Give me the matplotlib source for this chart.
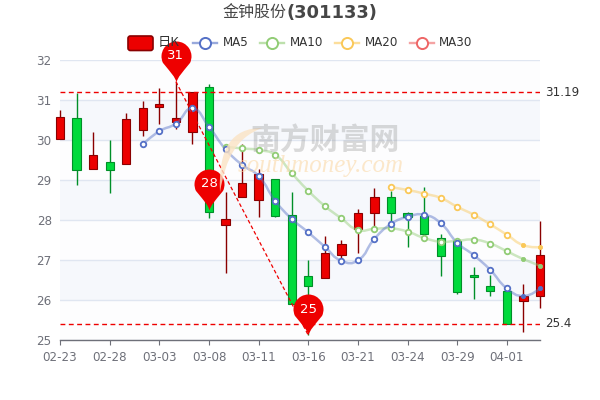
import numpy as np
import matplotlib
matplotlib.use("Agg")
import matplotlib.pyplot as plt
from matplotlib.path import Path
from matplotlib.patches import PathPatch, FancyBboxPatch
from matplotlib.lines import Line2D

tick_labels = ["02-23", "02-28", "03-03", "03-08", "03-11", "03-16", "03-21", "03-24", "03-29", "04-01"]
opens = [30.02, 30.54, 29.27, 29.46, 29.39, 30.25, 30.82, 30.46, 30.20, 31.33, 27.87, 28.58, 28.50, 29.03, 28.12,
         26.60, 26.54, 27.13, 27.78, 28.17, 28.58, 28.17, 28.10, 27.54, 27.48, 26.63, 26.35, 26.23, 25.97, 26.11]
closes = [30.57, 29.24, 29.62, 29.25, 30.52, 30.80, 30.89, 30.54, 31.19, 28.21, 28.03, 28.93, 29.14, 28.09, 25.91,
          26.35, 27.17, 27.39, 28.17, 28.58, 28.17, 28.08, 27.65, 27.09, 26.19, 26.57, 26.23, 25.40, 26.11, 27.12]
lows = [30.02, 28.87, 29.27, 28.68, 29.39, 30.10, 30.40, 30.27, 29.89, 28.04, 26.67, 28.58, 28.08, 28.07, 25.91,
        25.12, 26.54, 27.00, 27.17, 27.80, 27.83, 27.32, 27.63, 26.60, 26.14, 26.02, 26.11, 25.40, 25.20, 25.79]
highs = [30.75, 31.17, 30.19, 30.00, 30.67, 30.97, 31.29, 31.46, 31.19, 31.39, 28.69, 29.89, 29.27, 29.03, 28.69,
         27.00, 27.60, 27.50, 28.27, 28.79, 28.73, 28.20, 28.82, 27.65, 27.52, 26.83, 26.63, 26.25, 26.40, 27.98]
ma5 = [None] * 5 + [29.89, 30.22, 30.41, 30.79, 30.33, 29.77, 29.38, 29.10, 28.48, 28.03, 27.69, 27.33, 26.98, 26.99,
                    27.53, 27.90, 28.08, 28.13, 27.92, 27.43, 27.12, 26.75, 26.29, 26.10, 26.29]
ma10 = [None] * 10 + [29.83, 29.79, 29.75, 29.63, 29.17, 28.73, 28.35, 28.04, 27.75, 27.78, 27.79, 27.71, 27.55,
                      27.46, 27.48, 27.51, 27.41, 27.22, 27.02, 26.86]
ma20 = [None] * 20 + [28.82, 28.75, 28.66, 28.55, 28.33, 28.13, 27.89, 27.63, 27.37, 27.32]
pin_idx = [7, 9, 15]
pin_vals = [31.46, 28.25, 25.12]
pin_labels = ["31", "28", "25"]
max_close = 31.19
min_close = 25.4

CJK = ["Noto Sans CJK SC", "DejaVu Sans"]
C_UP, C_UPB, C_DN, C_DNB = "#ec0000", "#8a0000", "#00da3c", "#008f28"
C5, C10, C20, C30 = "#5470c6", "#91cc75", "#fac858", "#ee6666"
RED = "#ee0000"

fig = plt.figure(figsize=(6, 4), dpi=100, facecolor="white")
ax = fig.add_axes([60 / 600, 60 / 400, 480 / 600, 280 / 400])
ax.set_xlim(0, 29)
ax.set_ylim(25, 32)
ax.set_facecolor("white")

# bands and grid
for v in range(25, 32):
    c = "#f6f8fc" if v in (26, 28, 30) else "#fdfdfe"
    ax.axhspan(v, v + 1, color=c, lw=0, zorder=0)
ax.set_yticks(range(25, 33))
ax.grid(axis="y", color="#e0e6f1", lw=1, zorder=0.5)
ax.set_axisbelow(True)
for s in ("top", "right", "left"):
    ax.spines[s].set_visible(False)
ax.spines["bottom"].set_color("#6e7079")
ax.spines["bottom"].set_linewidth(1)
ax.set_xticks(range(0, 30, 3))
ax.set_xticklabels(tick_labels)
ax.tick_params(axis="x", length=3.6, width=0.8, color="#6e7079", labelcolor="#6e7079", labelsize=8.6, pad=4.5)
ax.tick_params(axis="y", length=0, labelcolor="#6e7079", labelsize=8.6, pad=6)

# watermark
def fx(x):
    return x / 600
def fy(y):
    return 1 - y / 400
fig.text(fx(325), fy(141), "南方财富网", family=CJK, fontsize=21.5, fontweight="bold", color="#9a9a9a", alpha=0.36,
         ha="center", va="center", zorder=1)
swoosh = Path([(fx(262), fy(128)), (fx(232), fy(128)), (fx(218), fy(148)), (fx(220), fy(192)),
               (fx(226), fy(158)), (fx(236), fy(138)), (fx(262), fy(128))],
              [Path.MOVETO, Path.CURVE4, Path.CURVE4, Path.CURVE4, Path.CURVE4, Path.CURVE4, Path.CURVE4])
fig.add_artist(PathPatch(swoosh, transform=fig.transFigure, fc="#fbe3c4", ec="none", alpha=0.8, zorder=1))
fig.text(fx(321), fy(166), "southmoney.com", family="Liberation Serif", style="italic", fontsize=18, color="#fbd9a8",
         alpha=0.6, ha="center", va="center", zorder=1)

# candles
x = np.arange(len(opens))
for i in x:
    o, c, l, h = opens[i], closes[i], lows[i], highs[i]
    up = c >= o
    fill, edge = (C_UP, C_UPB) if up else (C_DN, C_DNB)
    ax.vlines(i, l, h, color=edge, lw=1, zorder=3, clip_on=False)
    ax.bar(i, abs(c - o), bottom=min(o, c), width=0.5, color=fill, edgecolor=edge, linewidth=0.8, zorder=3.1,
           clip_on=False)

# smooth MA lines
def smooth_path(xs, ys, s=0.5):
    p = np.column_stack([np.asarray(xs, float) * 16.55, np.asarray(ys, float) * 40])
    verts, codes = [p[0]], [Path.MOVETO]
    n = len(p)
    for i in range(n - 1):
        if i == 0:
            c1 = p[0]
        else:
            v = p[i + 1] - p[i - 1]
            d0, d1 = np.linalg.norm(p[i] - p[i - 1]), np.linalg.norm(p[i + 1] - p[i])
            c1 = p[i] + v * s * d1 / (d0 + d1)
        if i + 1 == n - 1:
            c2 = p[i + 1]
        else:
            v = p[i + 2] - p[i]
            d0, d1 = np.linalg.norm(p[i + 1] - p[i]), np.linalg.norm(p[i + 2] - p[i + 1])
            c2 = p[i + 1] - v * s * d0 / (d0 + d1)
        verts += [c1, c2, p[i + 1]]
        codes += [Path.CURVE4] * 3
    verts = np.array(verts) / [16.55, 40]
    return Path(verts, codes)

for vals, col in ((ma20, C20), (ma10, C10), (ma5, C5)):
    xs = [i for i, v in enumerate(vals) if v is not None]
    ys = [v for v in vals if v is not None]
    ax.add_patch(PathPatch(smooth_path(xs, ys), fc="none", ec=col, lw=1.8, alpha=0.45, zorder=4, clip_on=False,
                           capstyle="round"))
    ax.plot(xs[:-2], ys[:-2], ls="none", marker="o", ms=4, mfc="white", mec=col, mew=1.3, zorder=4.5, clip_on=False)
    ax.plot(xs[-2:], ys[-2:], ls="none", marker="o", ms=3, mfc=col, mec=col, mew=0.6, zorder=4.5, clip_on=False)

# reference lines
ax.plot([0, 29], [max_close, max_close], color="#ee0000", lw=1, dashes=(3.5, 2.5), zorder=5)
ax.plot([0, 29], [min_close, min_close], color="#ee0000", lw=1, dashes=(3.5, 2.5), zorder=5)
ax.plot([pin_idx[0], pin_idx[2]], [pin_vals[0], pin_vals[2]], color="#ee0000", lw=0.9, dashes=(3, 2), zorder=5,
        clip_on=False)
ax.annotate(f"{max_close:g}", (29, max_close), xytext=(5, 0), textcoords="offset pixels", color="#333333", fontsize=8.6,
            va="center", ha="left", annotation_clip=False)
ax.annotate(f"{min_close:g}", (29, min_close), xytext=(5, 0), textcoords="offset pixels", color="#333333", fontsize=8.6,
            va="center", ha="left", annotation_clip=False)

# pins
r, cy = 15.0, 26.0
arc = Path.arc(-25, 205)
av = arc.vertices * r + [0, cy]
start = av[0]
pin_verts = [(0, 0), (1.6, 6), (5, 9), tuple(start)] + [tuple(v) for v in av[1:]] + [(-5, 9), (-1.6, 6), (0, 0), (0, 0)]
pin_codes = [Path.MOVETO, Path.CURVE4, Path.CURVE4, Path.CURVE4] + list(arc.codes[1:]) + \
            [Path.CURVE4, Path.CURVE4, Path.CURVE4, Path.CLOSEPOLY]
pin = Path(pin_verts, pin_codes)
ms_pts = 2 * (cy + r) * 72 / 100
for i, v, lab in zip(pin_idx, pin_vals, pin_labels):
    ax.plot([i], [v], marker=pin, ms=ms_pts, mfc=RED, mec="none", ls="none", zorder=6, clip_on=False)
    ax.annotate(lab, (i, v), xytext=(0, cy), textcoords="offset pixels", color="white", fontsize=9.5, ha="center",
                va="center", zorder=7, annotation_clip=False)

# title
fig.text(fx(222), fy(13), "金钟股份", family=CJK, fontsize=11.5, color="#464646", ha="left", va="center")
fig.text(fx(286), fy(13), "(301133)", family="DejaVu Sans", fontweight="bold", fontsize=12.9, color="#464646", ha="left",
         va="center")

# legend
fig.add_artist(FancyBboxPatch((fx(128), fy(50.5)), fx(25), 14.5 / 400, boxstyle="round,pad=0,rounding_size=0.004",
                              transform=fig.transFigure, fc=C_UP, ec=C_UPB, lw=1.2, mutation_aspect=1.5, zorder=2))
fig.text(fx(158), fy(42.5), "日K", family=CJK, fontsize=9.5, color="#333333", ha="left", va="center", zorder=2)
for cx, tx, col, lab in ((205, 223, C5, "MA5"), (272, 290, C10, "MA10"), (347, 365, C20, "MA20"), (422, 439, C30, "MA30")):
    fig.add_artist(Line2D([fx(cx - 12), fx(cx + 12)], [fy(43), fy(43)], transform=fig.transFigure, color=col, lw=1.7,
                          alpha=0.6, zorder=2))
    fig.add_artist(Line2D([fx(cx)], [fy(43)], transform=fig.transFigure, marker="o", ms=8, mfc="white", mec=col, mew=1.4,
                          ls="none", zorder=2))
    fig.text(fx(tx), fy(43), lab, fontsize=8.6, color="#333333", ha="left", va="center", zorder=2)

fig.savefig("out.png", dpi=100)
